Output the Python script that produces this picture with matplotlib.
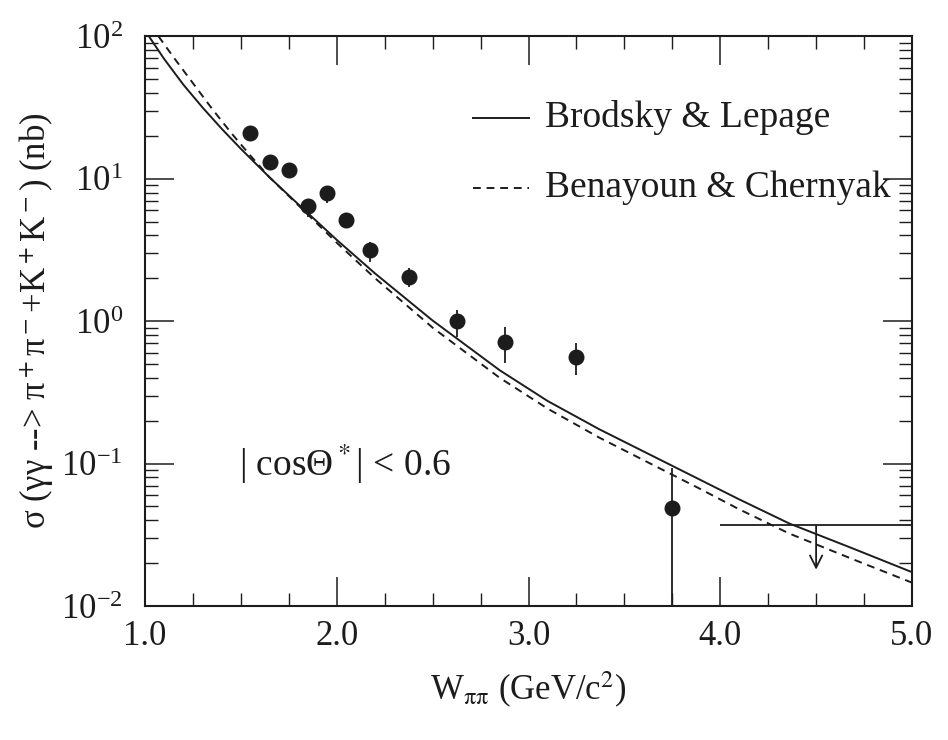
import numpy as np
from matplotlib import pyplot as plt
from matplotlib.lines import Line2D

# measured cross sections (nb)
w_data = [1.55, 1.65, 1.75, 1.85, 1.95, 2.05, 2.175, 2.375, 2.625, 2.875, 3.25, 3.75]
sig_data = [20.9, 13.1, 11.5, 6.4, 7.9, 5.1, 3.15, 2.04, 1.0, 0.71, 0.56, 0.049]
sig_lo = [19.5, 13.1, 11.5, 5.4, 6.8, 4.5, 2.6, 1.73, 0.77, 0.51, 0.42, 0.001]
sig_hi = [22.0, 13.1, 11.5, 7.2, 8.7, 5.7, 3.58, 2.36, 1.19, 0.91, 0.70, 0.093]

# upper limit for the last bin
ul_w = [4.0, 5.0]
ul_centre = 4.5
ul_sig = 0.037
ul_tip = 0.018

# model curves
w_bl = [1.02, 1.10, 1.20, 1.30, 1.40, 1.50, 1.65, 1.80, 2.00, 2.20, 2.50, 2.85,
        3.10, 3.37, 3.89, 4.10, 4.36, 4.70, 5.0]
sig_bl = [100, 69.2, 45.7, 31.6, 22.4, 16.2, 10.2, 6.6, 3.72, 2.16, 1.01, 0.452,
          0.275, 0.174, 0.0776, 0.056, 0.038, 0.0251, 0.0173]
w_bc = [1.07, 1.15, 1.25, 1.35, 1.45, 1.55, 1.65, 1.80, 2.00, 2.20, 2.50, 2.85,
        3.10, 3.37, 3.89, 4.10, 4.36, 4.70, 5.0]
sig_bc = [100, 70.8, 46.8, 30.9, 20.9, 14.5, 10.2, 6.5, 3.55, 2.0, 0.90, 0.40,
          0.243, 0.152, 0.067, 0.0477, 0.0323, 0.0211, 0.0146]

plt.rcParams.update({'font.family': 'Liberation Serif', 'mathtext.fontset': 'stix',
                     'font.size': 25})
ink = '#1c1c1c'

fig = plt.figure(figsize=(9.48, 7.40), dpi=100)
ax = fig.add_axes([0.153, 0.181, 0.809, 0.770])
ax.set_yscale('log')
ax.set(xlim=[1.0, 5.0], ylim=[1e-2, 1e2])

ax.plot(w_bl, sig_bl, color=ink, lw=1.4)
ax.plot(w_bc, sig_bc, color=ink, lw=1.4, dashes=(4, 3))

y = np.array(sig_data)
yerr = [y - np.array(sig_lo), np.array(sig_hi) - y]
ax.errorbar(w_data, sig_data, yerr=yerr, fmt='o', color=ink, ms=10.5,
            elinewidth=1.3, capsize=0)

ax.hlines(ul_sig, ul_w[0], ul_w[1], color=ink, lw=1.3)
ax.annotate('', xy=(ul_centre, ul_tip), xytext=(ul_centre, ul_sig),
            arrowprops=dict(arrowstyle='->', color=ink, lw=1.3,
                            mutation_scale=22, shrinkA=0, shrinkB=0))

# legend drawn by hand
ax.add_line(Line2D([0.427, 0.500], [0.856, 0.856], transform=ax.transAxes,
                   color=ink, lw=1.4))
ax.add_line(Line2D([0.427, 0.500], [0.733, 0.733], transform=ax.transAxes,
                   color=ink, lw=1.4, dashes=(4, 3)))
ax.text(0.521, 0.858, 'Brodsky & Lepage', transform=ax.transAxes,
        va='center', ha='left', color=ink, fontsize=27)
ax.text(0.521, 0.735, 'Benayoun & Chernyak', transform=ax.transAxes,
        va='center', ha='left', color=ink, fontsize=27)

ax.text(1.49, 0.10, '| cos\u0398$^*$| < 0.6', va='center', ha='left', color=ink,
        fontsize=27)

ax.set_xticks([1.0, 2.0, 3.0, 4.0, 5.0])
ax.set_xticklabels(['1.0', '2.0', '3.0', '4.0', '5.0'])
ax.set_xticks(np.arange(1.0, 5.01, 0.25), minor=True)
ax.tick_params(which='both', direction='in', top=True, right=True, colors=ink)
ax.tick_params(which='major', length=21, width=1.1)
ax.tick_params(which='minor', length=9.5, width=1.0)
ax.tick_params(axis='x', which='major', pad=10)
ax.tick_params(axis='y', which='major', pad=16)
for s in ax.spines.values():
    s.set_linewidth(1.5)
    s.set_color(ink)

ax.set_xlabel(r'W$_{\mathrm{\pi\pi}}$ (GeV/c$^2$)', labelpad=12, color=ink)
ax.set_ylabel('\u03c3 (\u03b3\u03b3 --> \u03c0$^+$\u03c0$^-$+K$^+$K$^-$) (nb)',
              labelpad=4, color=ink)

plt.savefig('out.png', dpi=100)
